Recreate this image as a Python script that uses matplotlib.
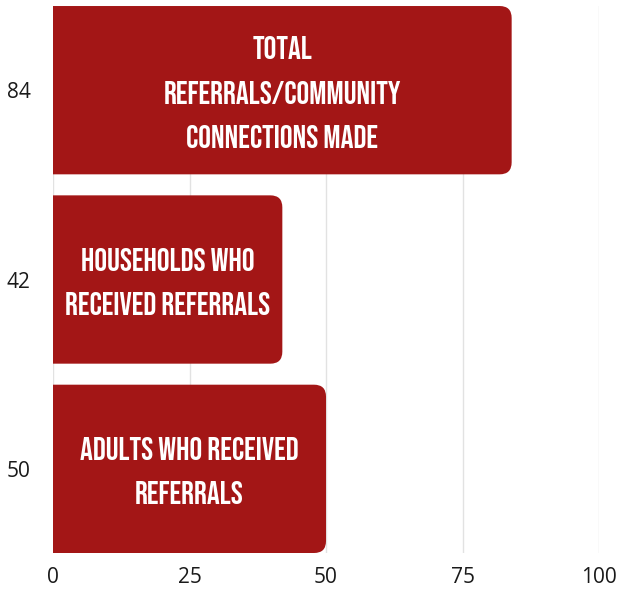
import matplotlib
matplotlib.use("Agg")
import matplotlib.pyplot as plt
from matplotlib.patches import FancyBboxPatch
from matplotlib import font_manager

values = [84, 42, 50]
labels = [
    "TOTAL\nREFERRALS/COMMUNITY\nCONNECTIONS MADE",
    "HOUSEHOLDS WHO\nRECEIVED REFERRALS",
    "ADULTS WHO RECEIVED\nREFERRALS",
]
tick_labels = ["84", "42", "50"]
x_ticks = [0, 25, 50, 75, 100]

BAR_COLOR = "#A31616"
GRID_COLOR = "#e2e2e2"

installed = {f.name for f in font_manager.fontManager.ttflist}
label_font = next((n for n in ["Bebas Neue", "Oswald", "Archivo Narrow"] if n in installed), "DejaVu Sans")
tick_font = next((n for n in ["Open Sans", "Roboto"] if n in installed), "DejaVu Sans")

fig = plt.figure(figsize=(6.23, 5.90), dpi=100)
ax = fig.add_axes([0.0851, 0.0627, 0.8764, 0.9271])

pos = list(range(len(values)))
height = 0.889
bars = ax.barh(pos, values, height=height, color=BAR_COLOR, zorder=2)

ax.set_xlim(0, 100)
ax.set_ylim(2 + height / 2, -height / 2)

# swap the square bars for ones with rounded right corners
fig.canvas.draw()
px_x = ax.transData.transform((1, 0))[0] - ax.transData.transform((0, 0))[0]
px_y = abs(ax.transData.transform((0, 1))[1] - ax.transData.transform((0, 0))[1])
radius = 12 / px_x
for b in bars:
    b.set_visible(False)
    x0, y0 = b.get_x(), b.get_y()
    w, h = b.get_width(), b.get_height()
    patch = FancyBboxPatch(
        (x0 - 5, y0), w + 5, h,
        boxstyle=f"round,pad=0,rounding_size={radius}",
        mutation_aspect=px_x / px_y,
        facecolor=BAR_COLOR, edgecolor="none", zorder=2,
    )
    ax.add_patch(patch)

for p, v, lab in zip(pos, values, labels):
    ax.text(v / 2, p + 0.01, lab, ha="center", va="center", color="white",
            fontsize=23, family=label_font, fontstretch="condensed",
            linespacing=1.92, zorder=3)

ax.set_xticks(x_ticks)
ax.set_yticks(pos)
ax.set_yticklabels(tick_labels)
ax.tick_params(axis="both", length=0, labelsize=15, colors="#1a1a1a")
for t in ax.get_xticklabels() + ax.get_yticklabels():
    t.set_family(tick_font)
ax.tick_params(axis="y", pad=16)
ax.tick_params(axis="x", pad=10)
ax.grid(axis="x", color=GRID_COLOR, linewidth=1, zorder=0)
ax.set_axisbelow(True)
for s in ax.spines.values():
    s.set_visible(False)

fig.savefig("out.png", dpi=100)
